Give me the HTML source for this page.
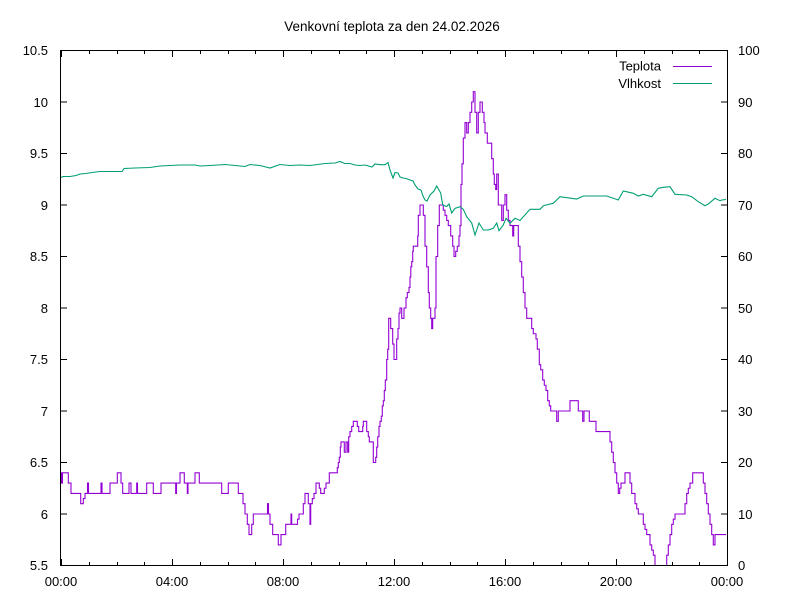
<!DOCTYPE html>
<html>
<head>
<meta charset="utf-8">
<style>
  html, body { margin: 0; padding: 0; background: #ffffff; }
  svg { display: block; }
  text { font-family: "Liberation Sans", Arial, sans-serif; font-size: 13px; fill: #000; }
  .title { font-size: 13.5px; }
</style>
</head>
<body>
<svg width="800" height="600" viewBox="0 0 800 600" xmlns="http://www.w3.org/2000/svg">
  <rect x="0" y="0" width="800" height="600" fill="#ffffff"/>
  <defs>
    <clipPath id="plot">
      <rect x="61" y="51" width="666" height="514"/>
    </clipPath>
  </defs>

  <!-- title -->
  <text class="title" x="392" y="31" text-anchor="middle">Venkovní teplota za den 24.02.2026</text>

  <!-- ticks -->
  <g stroke="#000" stroke-width="1" fill="none">
    <path d="M61,565.5 H67 M61,514 H67 M61,462.5 H67 M61,411 H67 M61,359.5 H67 M61,308 H67 M61,256.5 H67 M61,205 H67 M61,153.5 H67 M61,102 H67 M61,50.5 H67"/>
    <path d="M721,565.5 H727 M721,514 H727 M721,462.5 H727 M721,411 H727 M721,359.5 H727 M721,308 H727 M721,256.5 H727 M721,205 H727 M721,153.5 H727 M721,102 H727 M721,50.5 H727"/>
    <path d="M61.5,565 V559 M172.5,565 V559 M283.5,565 V559 M394.5,565 V559 M505.5,565 V559 M616.5,565 V559 M727.5,565 V559
             M61.5,51 V57 M172.5,51 V57 M283.5,51 V57 M394.5,51 V57 M505.5,51 V57 M616.5,51 V57 M727.5,51 V57"/>
    <path d="M89.5,565 V562 M117.5,565 V562 M144.5,565 V562 M200.5,565 V562 M228.5,565 V562 M255.5,565 V562
             M311.5,565 V562 M339.5,565 V562 M366.5,565 V562 M422.5,565 V562 M450.5,565 V562 M477.5,565 V562
             M533.5,565 V562 M561.5,565 V562 M588.5,565 V562 M644.5,565 V562 M672.5,565 V562 M699.5,565 V562
             M89.5,51 V54 M117.5,51 V54 M144.5,51 V54 M200.5,51 V54 M228.5,51 V54 M255.5,51 V54
             M311.5,51 V54 M339.5,51 V54 M366.5,51 V54 M422.5,51 V54 M450.5,51 V54 M477.5,51 V54
             M533.5,51 V54 M561.5,51 V54 M588.5,51 V54 M644.5,51 V54 M672.5,51 V54 M699.5,51 V54"/>
  </g>

  <!-- left labels -->
  <g text-anchor="end">
    <text x="48" y="570">5.5</text>
    <text x="48" y="519">6</text>
    <text x="48" y="467">6.5</text>
    <text x="48" y="416">7</text>
    <text x="48" y="364">7.5</text>
    <text x="48" y="313">8</text>
    <text x="48" y="261">8.5</text>
    <text x="48" y="210">9</text>
    <text x="48" y="158">9.5</text>
    <text x="48" y="107">10</text>
    <text x="48" y="55">10.5</text>
  </g>
  <!-- right labels -->
  <g text-anchor="start">
    <text x="738" y="570">0</text>
    <text x="738" y="519">10</text>
    <text x="738" y="467">20</text>
    <text x="738" y="416">30</text>
    <text x="738" y="364">40</text>
    <text x="738" y="313">50</text>
    <text x="738" y="261">60</text>
    <text x="738" y="210">70</text>
    <text x="738" y="158">80</text>
    <text x="738" y="107">90</text>
    <text x="738" y="55">100</text>
  </g>
  <!-- x labels -->
  <g text-anchor="middle">
    <text x="61" y="586">00:00</text>
    <text x="172" y="586">04:00</text>
    <text x="283" y="586">08:00</text>
    <text x="394" y="586">12:00</text>
    <text x="505" y="586">16:00</text>
    <text x="616" y="586">20:00</text>
    <text x="727" y="586">00:00</text>
  </g>

  <!-- data -->
  <g clip-path="url(#plot)" fill="none" stroke-linejoin="miter">
    <path transform="matrix(1,0,0,-10.3,0,565.5)" vector-effect="non-scaling-stroke" stroke="#9400d3" stroke-width="1.1"
      d="M61,9 H61.5 V8 H62.5 V9 H68.3 V8 H71 V7 H80.7 V6 H83.3 V6.5 H85 V7 H87.5 V8 H88.5 V7 H101 V8 H102 V7 H110 V8 H117.3 V9 H121 V8 H122.7 V7 H129 V8 H131 V7 H136.7 V8 H137.5 V7 H146.7 V8 H153.3 V7 H161 V8 H175.7 V7 H176.5 V8 H180 V9 H184.3 V8 H187.3 V7 H188 V8 H195 V9 H199.3 V8 H221.7 V7 H228.3 V8 H238.3 V7 H243 V6 H245 V5 H247.3 V4 H249 V3 H251.7 V4 H253.3 V5 H267.5 V6 H268.5 V5 H270 V4 H272.7 V3 H278.3 V2 H281 V3 H285.7 V4 H291 V5 H291.7 V4 H297.5 V4.5 H299 V5 H303.3 V6 H305 V7 H308.3 V6 H310 V4 H310.7 V6 H312.3 V6.5 H314 V7 H316 V8 H319.3 V7.5 H320.7 V7 H324.3 V7.5 H326 V8 H329.3 V9 H337.3 V9.5 H338.3 V10 H339.3 V10.5 H340.3 V11.5 H341 V12 H344.3 V11 H346 V12 H347.7 V11 H348.7 V12.5 H350 V13 H351.7 V13.5 H353.3 V14 H357.3 V13.5 H358.7 V13 H362.7 V13.5 H363.3 V14 H366.7 V13 H368.3 V12.5 H369.3 V12 H373.3 V10 H375.7 V10.5 H376.7 V11.5 H377.7 V12.5 H379 V13.5 H380 V14 H381.3 V14.5 H382.3 V15.5 H383.3 V16 H384.3 V17 H385.3 V18 H386.7 V20 H387.7 V21 H388.7 V24 H390.7 V23 H392.7 V21.5 H394 V20 H396.7 V22 H398 V23 H399 V24.5 H400 V25 H401.7 V24 H404 V25 H406 V26 H407.3 V26.5 H409 V27 H410 V28 H410.8 V29 H411.7 V29.5 H412.7 V30.5 H413.3 V31 H417.7 V32 H418.3 V34 H420 V35 H423.3 V34 H425 V31 H426.7 V29 H428.3 V26.5 H429.3 V25 H430.7 V24 H431.7 V23 H432.7 V24 H435 V25 H436 V30 H437.7 V33 H439.3 V35 H443.3 V34.5 H445 V34 H446.7 V33.5 H448.3 V33 H450.7 V32 H452.7 V31 H454 V30 H455.7 V30.5 H457.3 V31 H459 V32 H460 V33 H461 V37 H462 V39 H463.3 V41.5 H465 V43 H466.7 V42 H468.3 V43 H470 V44 H471.7 V45 H473.3 V46 H475 V44 H476.7 V42 H478.3 V44 H480 V45 H482.3 V44 H484 V43 H485 V42 H487.3 V41 H491.7 V39.5 H493.3 V38 H494.3 V37 H495.7 V36.5 H496.7 V38 H498.3 V35 H501.7 V33.5 H503.3 V35 H505 V36 H506.7 V34.5 H508.3 V33.5 H510 V33 H512.7 V32 H513.7 V33 H518.3 V31 H520 V29.5 H521.7 V28 H523.3 V26.5 H525 V25 H526.7 V24 H531.7 V23 H533.3 V22.5 H536 V22 H537.3 V21 H539.3 V19.5 H540.7 V19 H542.7 V18 H544.3 V17.5 H546 V17 H547.7 V16 H549.3 V15.5 H550.7 V15 H556.7 V14 H558.3 V15 H570 V16 H578.3 V15 H582.7 V14 H584 V15 H589.3 V14 H596 V13 H610 V12 H611.7 V11 H613.3 V10 H615 V9 H616.7 V8 H618.3 V7 H619.7 V7.5 H621 V8 H625 V9 H630 V8 H631.7 V7 H635 V6 H636.7 V5.5 H638.3 V5 H643.3 V4 H645 V3.5 H646.7 V3 H650 V2 H651.7 V1.5 H653.3 V1 H655 V0 H656.7 V-1 H665.7 V0 H666.7 V1 H668.3 V2 H670 V3 H671.7 V4 H673.3 V4.5 H675 V5 H685 V6 H686.7 V7 H688.3 V7.5 H690 V8 H692.7 V9 H703.3 V8 H705 V7 H706.7 V6 H708.3 V5 H710 V4 H711.7 V3 H713.3 V2 H715 V3 H726"/>

    <polyline stroke="#009e73" stroke-width="1.1" points="
      61,177.5 63,176.5 70,176.5 76,175.5 80,174 86,173.5 92,172.5 100,171.5 110,171.5 122,171.5 124,168.5
      135,168 150,167.5 160,166 170,165.5 180,165 195,165 200,166 210,165.5 225,164.5 235,165.5 245,166.5
      250,164.5 260,165.5 270,168 280,164.5 290,165.5 300,165 310,165.5 325,163.5 335,163 340,161.5
      345,163.5 350,163.5 355,165 360,165.5 365,165 372,167 375,164 380,164.7 385,164.7 388,162.5
      390,170 393,178 395,172.5 398,173 400,177 403,178 406,178.5 410,180 413,181 415,185 418,189
      421,190 423,196 425,200 427,201 430,195 434,191 436.7,186 440.7,193 442.7,205 446.7,206.5
      449,204 451.7,213 455,208.3 460,206.7 463.3,209.3 466.7,216.7 471.7,223 475,235 479,223
      483.3,230 488.3,230 493.3,228.3 496.7,223 499,230.7 503.3,225 506,218.3 510,223.3 515,218.3
      520,220.5 530,209.3 540,209.3 543.3,205.7 553.3,203.3 560,196.7 576.7,199 583.3,196 606.7,196
      618.3,200 623.3,191 633.3,193.3 638.3,196 643.3,194.3 651.7,196.7 658.3,188.3 663.3,187.3
      670,186.7 675,194.3 686.7,195 691.7,196.7 698.3,201.7 705,205.7 708.3,204 715,198.3 720,200.7
      721.7,200 726,199.5"/>
  </g>

  <!-- legend -->
  <text x="661" y="70.5" text-anchor="end">Teplota</text>
  <line x1="673" y1="66.5" x2="712" y2="66.5" stroke="#9400d3" stroke-width="1"/>
  <text x="661" y="88" text-anchor="end">Vlhkost</text>
  <line x1="673" y1="83.5" x2="712" y2="83.5" stroke="#009e73" stroke-width="1"/>

  <!-- border -->
  <rect x="60.5" y="50.5" width="667" height="515" fill="none" stroke="#000" stroke-width="1"/>
</svg>
</body>
</html>
